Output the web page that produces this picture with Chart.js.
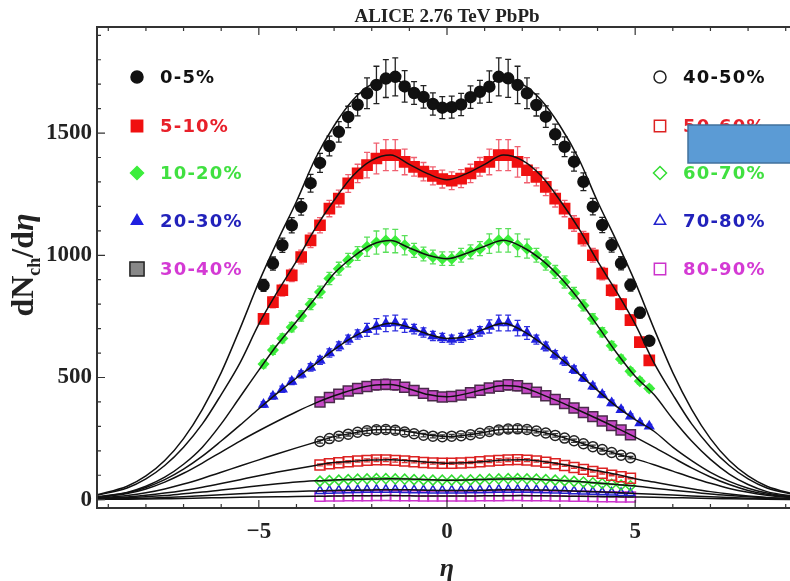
<!DOCTYPE html>
<html>
<head>
<meta charset="utf-8">
<title>ALICE 2.76 TeV PbPb</title>
<script src="https://cdn.jsdelivr.net/npm/chart.js@4.4.1/dist/chart.umd.min.js"></script>
<style>
  html, body { margin: 0; padding: 0; background: #fff; overflow: hidden; }
  #wrap { width: 790px; height: 581px; overflow: hidden; }
  canvas { display: block; }
</style>
</head>
<body>
<div id="wrap"><canvas id="dndeta" width="810" height="581"></canvas></div>
<script>
// dN/deta vs eta, ALICE PbPb 2.76 TeV, ten centrality classes + fits

// eta bin centres
const etaCentral = [-4.875, -4.625, -4.375, -4.125, -3.875, -3.625, -3.375, -3.125, -2.875, -2.625,
  -2.375, -2.125, -1.875, -1.625, -1.375, -1.125, -0.875, -0.625, -0.375, -0.125,
  0.125, 0.375, 0.625, 0.875, 1.125, 1.375, 1.625, 1.875, 2.125, 2.375,
  2.625, 2.875, 3.125, 3.375, 3.625, 3.875, 4.125, 4.375, 4.625, 4.875, 5.125, 5.375];
const etaPeripheral = [-3.375, -3.125, -2.875, -2.625, -2.375, -2.125, -1.875, -1.625, -1.375, -1.125,
  -0.875, -0.625, -0.375, -0.125, 0.125, 0.375, 0.625, 0.875, 1.125, 1.375,
  1.625, 1.875, 2.125, 2.375, 2.625, 2.875, 3.125, 3.375, 3.625, 3.875,
  4.125, 4.375, 4.625, 4.875];

// measured dN/deta
const dn0_5 = [877, 966, 1041, 1123, 1198, 1295, 1378, 1447, 1505, 1566, 1616, 1663, 1697, 1723, 1730, 1691, 1664, 1648, 1619, 1604,
  1606, 1617, 1647, 1669, 1690, 1730, 1724, 1697, 1663, 1615, 1567, 1495, 1444, 1383, 1301, 1199, 1124, 1042, 967, 878, 765, 650];
const dn5_10 = [740, 808, 857, 918, 993, 1061, 1123, 1191, 1232, 1294, 1335, 1369, 1396, 1410, 1410, 1382, 1362, 1342, 1325, 1312,
  1305, 1314, 1335, 1362, 1382, 1410, 1410, 1382, 1348, 1321, 1280, 1232, 1191, 1130, 1068, 1000, 925, 857, 800, 735, 645, 570];
const dn10_20 = [555, 612, 660, 706, 752, 800, 850, 905, 945, 980, 1007, 1035, 1052, 1060, 1058, 1041, 1020, 1005, 993, 986,
  986, 1000, 1014, 1027, 1048, 1061, 1061, 1041, 1027, 1000, 966, 932, 891, 845, 795, 740, 685, 630, 575, 525, 485, 455];
const dn20_30 = [389, 423, 452, 484, 513, 541, 570, 600, 628, 655, 676, 695, 709, 720, 723, 712, 698, 684, 670, 662,
  655, 662, 675, 689, 709, 723, 723, 702, 682, 655, 627, 593, 566, 532, 498, 464, 430, 396, 368, 341, 314, 300];
const dn30_40 = [400, 418, 432, 445, 455, 463, 470, 472, 470, 460, 447, 435, 425, 420,
  422, 428, 438, 448, 457, 464, 470, 466, 455, 440, 425, 410, 393, 375, 357, 340, 322, 303, 285, 266];
const dn40_50 = [238, 250, 260, 268, 276, 282, 286, 287, 284, 277, 270, 264, 260, 258,
  260, 262, 266, 272, 279, 285, 289, 290, 287, 281, 273, 263, 252, 241, 229, 217, 205, 193, 182, 172];
const dn50_60 = [142, 147, 151, 155, 158, 161, 163, 163, 161, 158, 155, 152, 150, 149,
  149, 150, 152, 155, 158, 161, 163, 164, 162, 158, 153, 147, 140, 132, 124, 116, 108, 100, 94, 88];
const dn60_70 = [76, 78, 80, 82, 84, 85, 86, 86, 85, 84, 82, 81, 80, 80,
  80, 80, 81, 82, 84, 85, 86, 86, 85, 84, 82, 80, 78, 75, 72, 69, 66, 63, 60, 57];
const dn70_80 = [36, 37, 38, 39, 40, 41, 41, 41, 41, 40, 39, 39, 38, 38,
  38, 38, 39, 39, 40, 41, 41, 41, 41, 40, 39, 38, 37, 35, 34, 32, 30, 29, 27, 26];
const dn80_90 = [14, 15, 15, 16, 16, 16, 17, 17, 16, 16, 16, 15, 15, 15,
  15, 15, 15, 16, 16, 16, 17, 17, 16, 16, 16, 15, 15, 14, 14, 13, 12, 12, 11, 11];

// relative uncertainty per eta bin (central grid; peripheral uses bins 6..39)
const errPct = [0.028, 0.028, 0.028, 0.028, 0.028, 0.028, 0.028, 0.028, 0.028, 0.028, 0.028,
  0.038, 0.045, 0.045, 0.045, 0.038,
  0.028, 0.028, 0.028, 0.028, 0.028, 0.028, 0.028, 0.028,
  0.038, 0.045, 0.045, 0.045, 0.038,
  0.028, 0.028, 0.028, 0.028, 0.028, 0.028, 0.028, 0.028, 0.028, 0.028, 0.028, 0.028, 0.028];

// fit curves
const fitEta = [-9.3, -8.5, -8, -7.5, -7, -6.5, -6, -5.5, -5, -4.5, -4, -3.5, -3, -2.5, -2, -1.5, -1, -0.5, 0,
  0.5, 1, 1.5, 2, 2.5, 3, 3.5, 4, 4.5, 5, 5.5, 6, 6.5, 7, 7.5, 8, 8.5, 9.3];
const fit0_5 = [20, 55, 97, 160, 250, 370, 520, 700, 890, 1060, 1220, 1395, 1530, 1635, 1700, 1725, 1685, 1635, 1610,
  1635, 1685, 1725, 1700, 1635, 1530, 1395, 1220, 1060, 890, 700, 520, 370, 250, 160, 97, 55, 20];
const fit5_10 = [18, 48, 85, 140, 215, 310, 430, 560, 718, 852, 976, 1110, 1225, 1325, 1388, 1410, 1372, 1333, 1309,
  1333, 1372, 1410, 1388, 1325, 1225, 1110, 976, 852, 718, 560, 430, 310, 215, 140, 85, 48, 18];
const fit10_20 = [12, 30, 55, 92, 145, 215, 310, 420, 530, 636, 729, 825, 925, 993, 1043, 1060, 1030, 1000, 986,
  1007, 1037, 1061, 1034, 983, 911, 820, 712, 602, 505, 430, 330, 240, 165, 105, 62, 33, 12];
const fit20_30 = [10, 28, 50, 82, 125, 178, 240, 305, 372, 437, 498, 555, 614, 665, 702, 722, 705, 677, 660,
  668, 699, 722, 692, 641, 580, 515, 447, 382, 328, 280, 215, 160, 112, 75, 47, 27, 10];
const fit30_40 = [8, 25, 44, 72, 108, 150, 195, 240, 282, 322, 360, 395, 425, 450, 467, 471, 453, 430, 421,
  433, 452, 467, 460, 432, 400, 366, 331, 294, 256, 215, 172, 130, 93, 62, 38, 22, 8];
const fit40_50 = [6, 17, 28, 44, 64, 87, 112, 138, 163, 188, 212, 235, 258, 272, 285, 287, 278, 265, 259,
  264, 276, 288, 288, 277, 258, 235, 211, 188, 167, 143, 117, 91, 67, 46, 30, 18, 6];
const fit50_60 = [4, 11, 18, 27, 38, 51, 66, 82, 98, 113, 127, 140, 152, 157, 162, 163, 159, 153, 149,
  151, 156, 162, 163, 157, 146, 133, 118, 104, 86, 72, 58, 45, 33, 23, 15, 9, 4];
const fit60_70 = [3, 8, 12, 17, 24, 31, 40, 48, 57, 65, 72, 77, 81, 83, 85, 86, 85, 82, 80,
  81, 83, 85, 86, 83, 79, 74, 68, 62, 56, 47, 39, 31, 23, 17, 12, 8, 3];
const fit70_80 = [2, 4, 6, 9, 12, 16, 20, 24, 28, 31, 34, 36, 38, 39, 40, 41, 41, 39, 38,
  38, 39, 41, 41, 40, 38, 35, 32, 29, 25, 22, 19, 15, 12, 9, 6, 4, 2];
const fit80_90 = [1, 2, 3, 4, 5, 7, 8, 10, 11, 12, 13, 14, 15, 16, 16, 17, 16, 15, 15,
  15, 16, 16, 17, 16, 15, 14, 13, 12, 11, 10, 8, 7, 5, 4, 3, 2, 1];

const xTicks = [-5, 0, 5];
const yTicks = [0, 500, 1000, 1500];

// centrality classes: data, fit and marker style
const classes = [
  { label: '0-5%', eta: etaCentral, vals: dn0_5, fit: fit0_5, off: 0, marker: 'circle', r: 5.5, fill: '#111', stroke: '#111', err: '#222', text: '#111', col: 0 },
  { label: '5-10%', eta: etaCentral, vals: dn5_10, fit: fit5_10, off: 0, marker: 'rect', r: 7.2, fill: '#f01010', stroke: '#f01010', err: '#f06070', text: '#e8202a', col: 0 },
  { label: '10-20%', eta: etaCentral, vals: dn10_20, fit: fit10_20, off: 0, marker: 'rectRot', r: 5, fill: '#3cee3c', stroke: '#3cee3c', err: '#5ae05a', text: '#40e040', col: 0 },
  { label: '20-30%', eta: etaCentral, vals: dn20_30, fit: fit20_30, off: 0, marker: 'triangle', r: 5, fill: '#2020e0', stroke: '#2020e0', err: '#3030e0', text: '#2222bb', col: 0 },
  { label: '30-40%', eta: etaPeripheral, vals: dn30_40, fit: fit30_40, off: 6, marker: 'rect', r: 7, fill: '#c548c5', stroke: '#4a2a4a', err: '#7a3a7a', text: '#d43ad4', col: 0, legendFill: '#888', legendStroke: '#222' },
  { label: '40-50%', eta: etaPeripheral, vals: dn40_50, fit: fit40_50, off: 6, marker: 'circle', r: 5, fill: 'rgba(255,255,255,0)', stroke: '#222', err: '#333', text: '#111', col: 1 },
  { label: '50-60%', eta: etaPeripheral, vals: dn50_60, fit: fit50_60, off: 6, marker: 'rect', r: 7, fill: 'rgba(255,255,255,0)', stroke: '#dd2222', err: '#dd3333', text: '#e8202a', col: 1 },
  { label: '60-70%', eta: etaPeripheral, vals: dn60_70, fit: fit60_70, off: 6, marker: 'rectRot', r: 5, fill: 'rgba(255,255,255,0)', stroke: '#33dd33', err: '#44dd44', text: '#40e040', col: 1 },
  { label: '70-80%', eta: etaPeripheral, vals: dn70_80, fit: fit70_80, off: 6, marker: 'triangle', r: 5, fill: 'rgba(255,255,255,0)', stroke: '#2222cc', err: '#2a2acc', text: '#2222bb', col: 1 },
  { label: '80-90%', eta: etaPeripheral, vals: dn80_90, fit: fit80_90, off: 6, marker: 'rect', r: 7, fill: 'rgba(255,255,255,0)', stroke: '#cc33cc', err: '#cc44cc', text: '#d43ad4', col: 1 }
];

const serif = '"Liberation Serif", "Times New Roman", serif';

function points(eta, vals) {
  return eta.map((x, i) => ({ x: x, y: vals[i] }));
}

const datasets = [];
classes.forEach(c => {
  datasets.push({
    label: c.label,
    data: points(c.eta, c.vals),
    showLine: false,
    pointStyle: c.marker,
    pointRadius: c.r,
    pointBackgroundColor: c.fill,
    pointBorderColor: c.stroke,
    pointBorderWidth: 1.5,
    errors: c.vals.map((v, i) => v * errPct[c.off + i]),
    errorColor: c.err,
    order: 1
  });
  datasets.push({
    label: c.label + ' fit',
    data: points(fitEta, c.fit),
    showLine: true,
    pointRadius: 0,
    borderColor: '#111',
    borderWidth: 1.5,
    cubicInterpolationMode: 'monotone',
    order: 0
  });
});

// vertical error bars with caps, under the markers
const errorBars = {
  id: 'errorBars',
  beforeDatasetsDraw(chart) {
    const { ctx, scales: { x, y } } = chart;
    chart.data.datasets.forEach(ds => {
      if (!ds.errors) return;
      ctx.save();
      ctx.strokeStyle = ds.errorColor;
      ctx.lineWidth = 1.3;
      ctx.beginPath();
      ds.data.forEach((p, j) => {
        const e = ds.errors[j];
        const px = x.getPixelForValue(p.x);
        const top = y.getPixelForValue(p.y + e);
        const bot = y.getPixelForValue(p.y - e);
        ctx.moveTo(px, top); ctx.lineTo(px, bot);
        ctx.moveTo(px - 3, top); ctx.lineTo(px + 3, top);
        ctx.moveTo(px - 3, bot); ctx.lineTo(px + 3, bot);
      });
      ctx.stroke();
      ctx.restore();
    });
  }
};

// frame with inward ticks
const frame = {
  id: 'frame',
  afterDraw(chart) {
    const { ctx, chartArea: a, scales: { x, y } } = chart;
    ctx.save();
    ctx.strokeStyle = '#333';
    ctx.lineWidth = 2;
    ctx.beginPath();
    ctx.moveTo(a.right + 10, a.top);
    ctx.lineTo(a.left, a.top);
    ctx.lineTo(a.left, a.bottom);
    ctx.lineTo(a.right + 10, a.bottom);
    ctx.stroke();

    ctx.lineWidth = 1.2;
    ctx.beginPath();
    for (let v = -9; v <= 9; v++) {
      const px = x.getPixelForValue(v);
      const len = xTicks.includes(v) ? 8 : 4;
      ctx.moveTo(px, a.bottom); ctx.lineTo(px, a.bottom - len);
      ctx.moveTo(px, a.top); ctx.lineTo(px, a.top + len);
    }
    for (let v = 0; v <= 1900; v += 100) {
      const py = y.getPixelForValue(v);
      const len = yTicks.includes(v) ? 8 : 4;
      ctx.moveTo(a.left, py); ctx.lineTo(a.left + len, py);
    }
    ctx.stroke();
    ctx.restore();
  }
};

function drawMarker(ctx, style, cx, cy, r) {
  ctx.beginPath();
  if (style === 'circle') {
    ctx.arc(cx, cy, r, 0, Math.PI * 2);
  } else if (style === 'rect') {
    const s = r * Math.SQRT1_2;
    ctx.rect(cx - s, cy - s, 2 * s, 2 * s);
  } else if (style === 'rectRot') {
    ctx.moveTo(cx, cy - r); ctx.lineTo(cx + r, cy); ctx.lineTo(cx, cy + r); ctx.lineTo(cx - r, cy); ctx.closePath();
  } else if (style === 'triangle') {
    ctx.moveTo(cx, cy - r);
    ctx.lineTo(cx + r * 0.866, cy + r * 0.5);
    ctx.lineTo(cx - r * 0.866, cy + r * 0.5);
    ctx.closePath();
  }
  ctx.fill();
  ctx.stroke();
}

// title, axis titles, two-column legend, overlay box
const annotations = {
  id: 'annotations',
  afterDraw(chart) {
    const ctx = chart.ctx;
    const cx = chart.scales.x.getPixelForValue(0);
    ctx.save();

    ctx.fillStyle = '#222';
    ctx.font = 'bold 19px ' + serif;
    ctx.textAlign = 'center';
    ctx.textBaseline = 'alphabetic';
    ctx.fillText('ALICE 2.76 TeV PbPb', cx, 22);

    ctx.font = 'italic bold 26px ' + serif;
    ctx.fillText('η', cx, 576);

    // dN_ch/deta, rotated
    ctx.save();
    ctx.translate(33, 265);
    ctx.rotate(-Math.PI / 2);
    const big = 'bold 32px ' + serif, small = 'bold 18px ' + serif, ital = 'italic bold 32px ' + serif;
    const parts = [['dN', big, 0], ['ch', small, 7], ['/d', big, 0], ['η', ital, 0]];
    let w = 0;
    parts.forEach(p => { ctx.font = p[1]; w += ctx.measureText(p[0]).width; });
    let px = -w / 2;
    ctx.textAlign = 'left';
    parts.forEach(p => {
      ctx.font = p[1];
      ctx.fillText(p[0], px, p[2]);
      px += ctx.measureText(p[0]).width;
    });
    ctx.restore();

    // legend
    const rows = [77, 126, 173, 221, 269];
    ctx.font = 'bold 18px "DejaVu Sans", sans-serif';
    ctx.textAlign = 'left';
    ctx.textBaseline = 'middle';
    if ('letterSpacing' in ctx) ctx.letterSpacing = '1.2px';
    const n = [0, 0];
    classes.forEach(c => {
      const row = rows[n[c.col]++];
      const mx = c.col === 0 ? 137 : 660;
      const tx = c.col === 0 ? 160 : 683;
      ctx.fillStyle = c.legendFill || c.fill;
      ctx.strokeStyle = c.legendStroke || c.stroke;
      ctx.lineWidth = 1.5;
      const lr = c.marker === 'rect' ? (c.legendFill ? 10 : 8) : c.marker === 'circle' ? 6 : 6.5;
      drawMarker(ctx, c.marker, mx, row, lr);
      ctx.fillStyle = c.text;
      ctx.fillText(c.label, tx, row + 1);
    });
    if ('letterSpacing' in ctx) ctx.letterSpacing = '0px';

    // blue box over the right legend
    ctx.fillStyle = '#5b9bd5';
    ctx.strokeStyle = '#41719c';
    ctx.lineWidth = 1.5;
    ctx.fillRect(688, 125, 120, 38);
    ctx.strokeRect(688, 125, 120, 38);
    ctx.restore();
  }
};

new Chart(document.getElementById('dndeta'), {
  type: 'scatter',
  data: { datasets: datasets },
  options: {
    responsive: false,
    animation: false,
    layout: { padding: { top: 27, right: 13, left: 0, bottom: 0 } },
    plugins: { legend: { display: false }, tooltip: { enabled: false } },
    scales: {
      x: {
        type: 'linear',
        min: -9.3,
        max: 9.3,
        grid: { display: false, drawTicks: false },
        border: { display: false },
        afterBuildTicks: s => { s.ticks = xTicks.map(v => ({ value: v })); },
        afterFit: s => { s.height = 73; },
        ticks: {
          padding: 10,
          maxRotation: 0,
          autoSkip: false,
          color: '#222',
          font: { family: serif, size: 23, weight: 'bold' },
          callback: v => (v < 0 ? '\u2212' + Math.abs(v) : String(v))
        }
      },
      y: {
        type: 'linear',
        min: -34,
        max: 1934,
        grid: { display: false, drawTicks: false },
        border: { display: false },
        afterBuildTicks: s => { s.ticks = yTicks.map(v => ({ value: v })); },
        afterFit: s => { s.width = 97; },
        ticks: {
          padding: 5,
          color: '#222',
          font: { family: serif, size: 23, weight: 'bold' },
          callback: v => String(v)
        }
      }
    }
  },
  plugins: [errorBars, frame, annotations]
});
</script>
</body>
</html>
